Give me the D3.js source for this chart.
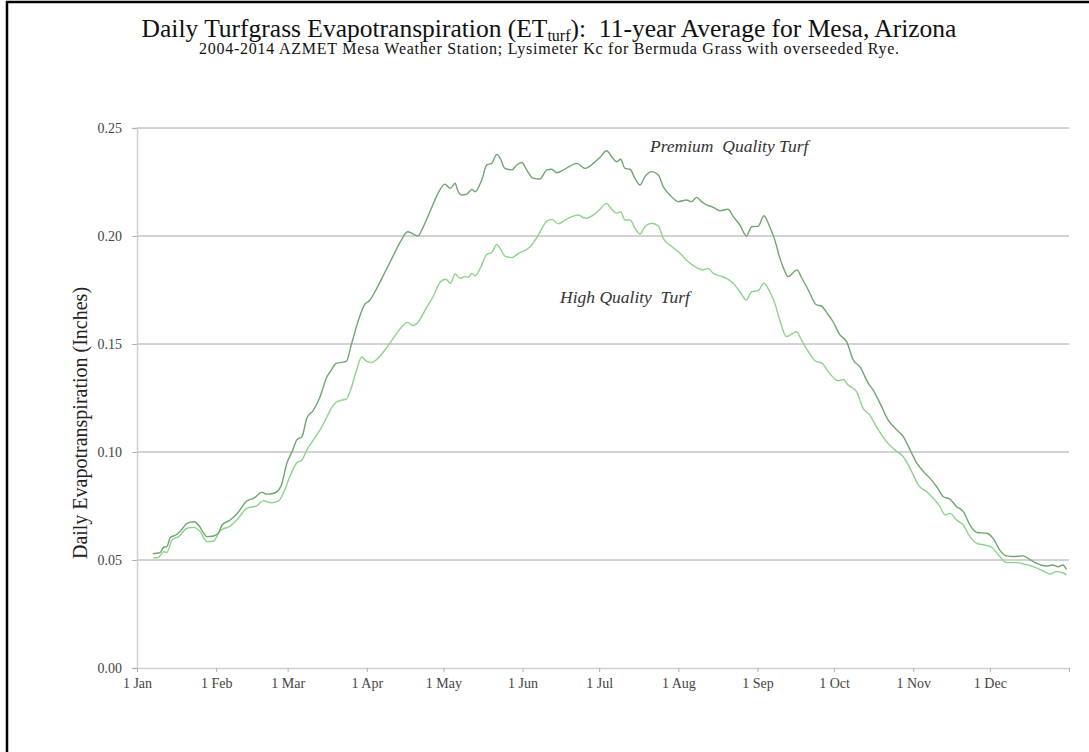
<!DOCTYPE html>
<html>
<head>
<meta charset="utf-8">
<script src="https://cdn.jsdelivr.net/npm/d3@7"></script>
<style>
  body { margin: 0; background: #fff; }
  svg { display: block; }
  text { font-family: "Liberation Serif", "Times New Roman", serif; fill: #222; }
  .tick text { font-size: 14px; fill: #444; }
</style>
</head>
<body>
<div id="chart"></div>
<script>
// day of year (0 = 1 Jan) and daily ET in inches
const premiumDay = [6.2, 9, 10.4, 11.7, 13, 15.7, 17.6, 19.6, 22.2, 24.1, 26, 27.4, 30, 32, 33.3, 36.5, 39.1, 43, 45.6, 48.9, 50.9, 53.5, 56.3, 58.7, 61, 62.6, 64.6, 66.5, 69.1, 71.7, 74.4, 75.7,
  78, 80, 82, 84, 87, 89, 91, 94, 97, 100, 103, 106, 108, 110, 112, 115, 118, 120.5,
  122.7, 124.6, 125.5, 127.2, 129.2, 131.1, 132.4, 135, 137, 138.9, 140.9, 142.2, 144.1, 146.8, 148.7, 150.7, 152.6, 155.2, 157.8, 160.5, 162.4, 164.4, 167, 169.6, 172.2, 175.5, 178.7,
  181.3, 183.9, 185.9, 187.9, 189.4, 191.1, 193.1, 195, 197, 198.9, 201.6, 204.2, 206.1, 208.7, 212, 215.2, 217.2, 219.2, 221.1, 223.1, 225.7, 228.3, 231.5, 233.5, 236.1, 238.7,
  240.7, 243.3, 245.5, 247.8, 249.8, 251.7, 253, 255, 258.5, 260.2, 262.9, 266.1, 268.1, 270.1, 272.6, 275.3, 277.9, 280.5, 283.1, 286.4, 288.3, 291, 294.2, 296.9, 300.1,
  302.8, 305.4, 308, 310.6, 313.2, 315.8, 318.4, 321, 323.6, 326.2, 328.9, 332.8, 335.3, 337.9, 340.5, 343.1, 347, 349.6, 352.2, 356.1, 358.7, 360.7, 362.6, 364];
const premiumEt = [.0529, .0534, .0559, .0562, .0603, .0619, .0642, .0670, .0677, .0662, .0627, .0608, .0611, .0627, .0662, .0685, .0713, .0773, .0785, .0813, .0805, .0809, .0840, .0948, .1009, .1056, .1071, .1156, .1194, .1256, .1349, .1372,
  .1410, .1415, .1420, .1500, .1620, .1680, .1700, .1760, .1830, .1900, .1970, .2020, .2010, .2000, .2040, .2120, .2200, .2240,
  .2221, .2244, .2213, .2190, .2194, .2216, .2205, .2259, .2329, .2336, .2378, .2360, .2313, .2306, .2329, .2340, .2306, .2267, .2264, .2306, .2309, .2293, .2306, .2324, .2336, .2313, .2336,
  .2364, .2395, .2367, .2344, .2355, .2313, .2309, .2267, .2236, .2275, .2298, .2282, .2228, .2190, .2159, .2167, .2159, .2179, .2159, .2144, .2133, .2117, .2124, .2090, .2051, .2000,
  .2043, .2046, .2094, .2043, .1981, .1900, .1858, .1812, .1843, .1809, .1750, .1681, .1676, .1645, .1603, .1542, .1511, .1426, .1395, .1318, .1287, .1225, .1148, .1110, .1071,
  .1009, .0948, .0909, .0878, .0839, .0793, .0781, .0747, .0724, .0662, .0627, .0624, .0600, .0546, .0519, .0516, .0519, .0503, .0485, .0472, .0477, .0469, .0477, .0457];

const highDay = [6.5, 8.5, 10.4, 11.7, 13.7, 16.3, 19.6, 22.2, 24.8, 27.4, 30, 32.6, 36.5, 39.1, 43, 47, 49.5, 52.2, 55.4, 57.4, 60, 62.6, 64.6, 66.5, 69.1, 71.7, 74.4, 75.7,
  78, 80, 82, 84, 86, 88, 90, 92, 94, 97, 100, 103, 106, 108, 110, 113, 116, 119, 121,
  122.7, 124.6, 126.5, 128.5, 129.8, 131.1, 132.4, 134.4, 137, 138.9, 140.9, 142.2, 144.1, 146.8, 149.4, 154, 157.2, 160.5, 162.4, 165, 167.6, 170.3, 172.8, 175.5, 178.7,
  181.3, 183.9, 185.9, 187.9, 189.4, 191.1, 193.1, 195, 197, 198.9, 201.6, 204.2, 206.1, 208.7, 212.6, 215.9, 218.5, 221.8, 223.7, 225.7, 228.3, 230.9, 233.5, 236.1, 238.7,
  240.7, 243.3, 245.5, 247.8, 249.8, 251.7, 254.4, 258.3, 260.2, 262.9, 266.1, 268.1, 270.7, 274.6, 276.6, 278.5, 281.8, 284.4, 287, 289.6, 293.5, 296.9, 300.1,
  303.4, 306, 309.3, 311.9, 314.5, 316.5, 318.4, 321, 323.6, 326.2, 328.9, 332.1, 334.7, 337.9, 340.5, 344.4, 347.6, 350.9, 354.8, 357.4, 360, 362.6, 364];
const highEt = [.0509, .0512, .0539, .0535, .0593, .0608, .0647, .0651, .0631, .0585, .0588, .0636, .0657, .0685, .0739, .0752, .0775, .0765, .0773, .0812, .0890, .0950, .0963, .1009, .1056, .1102, .1163, .1194,
  .1230, .1240, .1245, .1300, .1380, .1440, .1420, .1415, .1430, .1470, .1520, .1570, .1600, .1585, .1600, .1660, .1720, .1790, .1800,
  .1781, .1824, .1804, .1812, .1809, .1827, .1815, .1850, .1915, .1923, .1961, .1943, .1907, .1900, .1920, .1950, .2005, .2069, .2077, .2056, .2074, .2090, .2097, .2082, .2097,
  .2124, .2151, .2124, .2105, .2113, .2074, .2074, .2036, .2009, .2043, .2059, .2046, .1989, .1958, .1920, .1881, .1858, .1843, .1850, .1827, .1815, .1804, .1781, .1742, .1704,
  .1742, .1747, .1781, .1742, .1688, .1611, .1534, .1557, .1519, .1465, .1418, .1413, .1372, .1330, .1336, .1310, .1279, .1202, .1171, .1117, .1048, .1009, .0978,
  .0909, .0847, .0816, .0785, .0747, .0708, .0716, .0685, .0662, .0608, .0577, .0569, .0559, .0516, .0488, .0488, .0481, .0469, .0450, .0435, .0446, .0441, .0431];

const monthStart = [0, 31, 59, 90, 120, 151, 181, 212, 243, 273, 304, 334, 365];
const monthLabel = ["1 Jan", "1 Feb", "1 Mar", "1 Apr", "1 May", "1 Jun", "1 Jul", "1 Aug", "1 Sep", "1 Oct", "1 Nov", "1 Dec"];
const yTicks = [0, 0.05, 0.10, 0.15, 0.20, 0.25];

const w = 1089;
const h = 752;
const plotLeft = 137, plotRight = 1069, plotTop = 128, plotBottom = 668;

const svg = d3.select("#chart")
  .append("svg")
  .attr("width", w)
  .attr("height", h);

// outer frame, runs off the right and bottom of the picture
svg.append("rect")
  .attr("x", 7)
  .attr("y", 2)
  .attr("width", 1200)
  .attr("height", 900)
  .attr("fill", "none")
  .attr("stroke", "#000")
  .attr("stroke-width", 2.5);

const xScale = d3.scaleLinear()
  .domain([0, 365])
  .range([plotLeft, plotRight]);

const yScale = d3.scaleLinear()
  .domain([0, 0.25])
  .range([plotBottom, plotTop]);

// gridlines
svg.append("g")
  .selectAll("line")
  .data(yTicks.slice(1))
  .join("line")
  .attr("x1", plotLeft)
  .attr("x2", plotRight)
  .attr("y1", d => yScale(d))
  .attr("y2", d => yScale(d))
  .attr("stroke", "#a6a6a6")
  .attr("stroke-width", 1);

const yAxis = d3.axisLeft(yScale)
  .tickValues(yTicks)
  .tickFormat(d3.format(".2f"))
  .tickSize(5)
  .tickPadding(10);

const gy = svg.append("g")
  .attr("transform", "translate(" + plotLeft + ",0)")
  .call(yAxis);
gy.select(".domain").attr("stroke", "#d0d0d0").attr("stroke-width", 1.5);
gy.selectAll(".tick line").attr("stroke", "#b0b0b0");

const xAxis = d3.axisBottom(xScale)
  .tickValues(monthStart)
  .tickFormat((d, i) => monthLabel[i] || "")
  .tickSize(4)
  .tickPadding(6)
  .tickSizeOuter(0);

const gx = svg.append("g")
  .attr("transform", "translate(0," + plotBottom + ")")
  .call(xAxis);
gx.select(".domain").attr("stroke", "#d0d0d0").attr("stroke-width", 1.5);
gx.selectAll(".tick line").attr("stroke", "#b0b0b0");

const line = d3.line()
  .x(d => xScale(d[0]))
  .y(d => yScale(d[1]))
  .curve(d3.curveMonotoneX);

svg.append("path")
  .datum(highDay.map((d, i) => [d, highEt[i]]))
  .attr("fill", "none")
  .attr("stroke", "#8cd48c")
  .attr("stroke-width", 1.4)
  .attr("d", line);

svg.append("path")
  .datum(premiumDay.map((d, i) => [d, premiumEt[i]]))
  .attr("fill", "none")
  .attr("stroke", "#6ea66e")
  .attr("stroke-width", 1.4)
  .attr("d", line);

// titles
const title = svg.append("text")
  .attr("x", 549)
  .attr("y", 37)
  .attr("text-anchor", "middle")
  .style("font-size", "25.5px")
  .style("fill", "#111");
title.append("tspan").text("Daily Turfgrass Evapotranspiration (ET");
title.append("tspan").text("turf").style("font-size", "16px").attr("dy", 4);
title.append("tspan").text("):\u00a0\u00a011-year Average for Mesa, Arizona").attr("dy", -4);

svg.append("text")
  .attr("x", 549)
  .attr("y", 54)
  .attr("text-anchor", "middle")
  .attr("textLength", 700)
  .attr("lengthAdjust", "spacing")
  .style("font-size", "16px")
  .style("fill", "#111")
  .text("2004-2014 AZMET Mesa Weather Station; Lysimeter Kc for Bermuda Grass with overseeded Rye.");

svg.append("text")
  .attr("transform", "translate(87," + 423 + ") rotate(-90)")
  .attr("text-anchor", "middle")
  .style("font-size", "20px")
  .style("fill", "#222")
  .text("Daily Evapotranspiration (Inches)");

svg.append("text")
  .attr("x", 650)
  .attr("y", 152)
  .style("font-size", "17.5px")
  .style("font-style", "italic")
  .style("fill", "#333")
  .text("Premium\u00a0\u00a0Quality Turf");

svg.append("text")
  .attr("x", 560)
  .attr("y", 303)
  .style("font-size", "17.5px")
  .style("font-style", "italic")
  .style("fill", "#333")
  .text("High Quality\u00a0\u00a0Turf");
</script>
</body>
</html>
